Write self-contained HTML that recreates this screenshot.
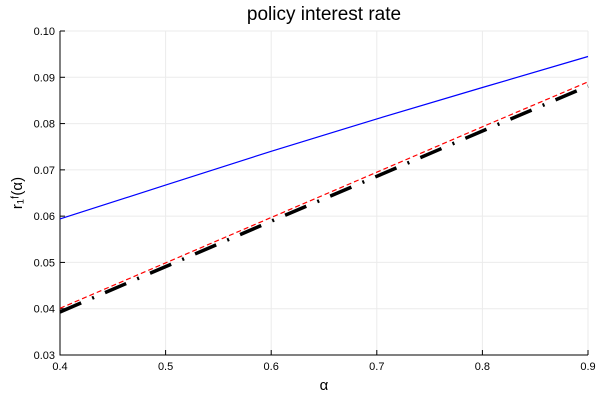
<!DOCTYPE html>
<html><head><meta charset="utf-8"><style>
body{margin:0;background:#fff}
svg{display:block;font-family:"Liberation Sans","DejaVu Sans",sans-serif}
</style></head><body>
<svg id="chart" width="600" height="400">
<text x="324" y="20" font-size="19" text-anchor="middle">policy interest rate</text>
<g id="grid"></g>
<g id="axes"></g>
<g id="series"></g>
<text x="324" y="390" font-size="15" text-anchor="middle">α</text>
<text transform="translate(22,193) rotate(-90)" font-size="15" text-anchor="middle">r₁ᶠ(α)</text>
</svg>
<script>
const xVals=[0.4,0.5,0.6,0.7,0.8,0.9];
const blueVals=[0.0594,0.0667,0.0740,0.0810,0.0878,0.0945];
const redVals=[0.0401,0.0499,0.0597,0.0695,0.0793,0.0890];
const blackVals=[0.0393,0.0491,0.0589,0.0686,0.0784,0.0881];
const xTicks=[0.4,0.5,0.6,0.7,0.8,0.9];
const yTicks=[0.03,0.04,0.05,0.06,0.07,0.08,0.09,0.10];
const X0=60,X1=588,Y0=355,Y1=31;
const sx=v=>X0+(v-0.4)/(0.5)*(X1-X0);
const sy=v=>Y0-(v-0.03)/(0.07)*(Y0-Y1);
const NS="http://www.w3.org/2000/svg";
function mk(t,a,p){const e=document.createElementNS(NS,t);for(const k in a)e.setAttribute(k,a[k]);p.appendChild(e);return e;}
const grid=document.getElementById('grid'),axes=document.getElementById('axes'),ser=document.getElementById('series');
xTicks.forEach(t=>{
 const g=mk('line',{x1:sx(t),x2:sx(t),y1:Y1,y2:Y0,stroke:'#ebebeb','stroke-width':1},grid);
 
 
 const tk=mk('line',{x1:sx(t),x2:sx(t),y1:Y0,y2:Y0-5,stroke:'#000'},axes);
 
 
 const l=mk('text',{x:sx(t),y:Y0+15,'font-size':11,'text-anchor':'middle'},axes);
 l.textContent=t.toFixed(1);
 
 
});
yTicks.forEach(t=>{
 const g=mk('line',{x1:X0,x2:X1,y1:sy(t),y2:sy(t),stroke:'#ebebeb','stroke-width':1},grid);
 
 
 const tk=mk('line',{x1:X0,x2:X0+5,y1:sy(t),y2:sy(t),stroke:'#000'},axes);
 
 
 const l=mk('text',{x:X0-5,y:sy(t)+4,'font-size':11,'text-anchor':'end'},axes);
 l.textContent=t.toFixed(2);
 
 
});
const ax=mk('path',{d:`M${X0},${Y1}V${Y0}H${X1}`,fill:'none',stroke:'#000','stroke-width':1},axes);


function line(vals,style,name){
 const d=xVals.map((x,i)=>(i?'L':'M')+sx(x).toFixed(1)+','+sy(vals[i]).toFixed(1)).join('');
 const p=mk('path',Object.assign({d:d,fill:'none'},style),ser);
 
 
}
line(blueVals,{stroke:'#0000ff','stroke-width':1.2},'blue-series-line');
line(redVals,{stroke:'#ff0000','stroke-width':1.2,'stroke-dasharray':'5,3'},'red-dashed-series-line');
line(blackVals,{stroke:'#000','stroke-width':3.5,'stroke-dasharray':'23,12,2,12'},'black-dashdot-series-line');
</script>
</body></html>
